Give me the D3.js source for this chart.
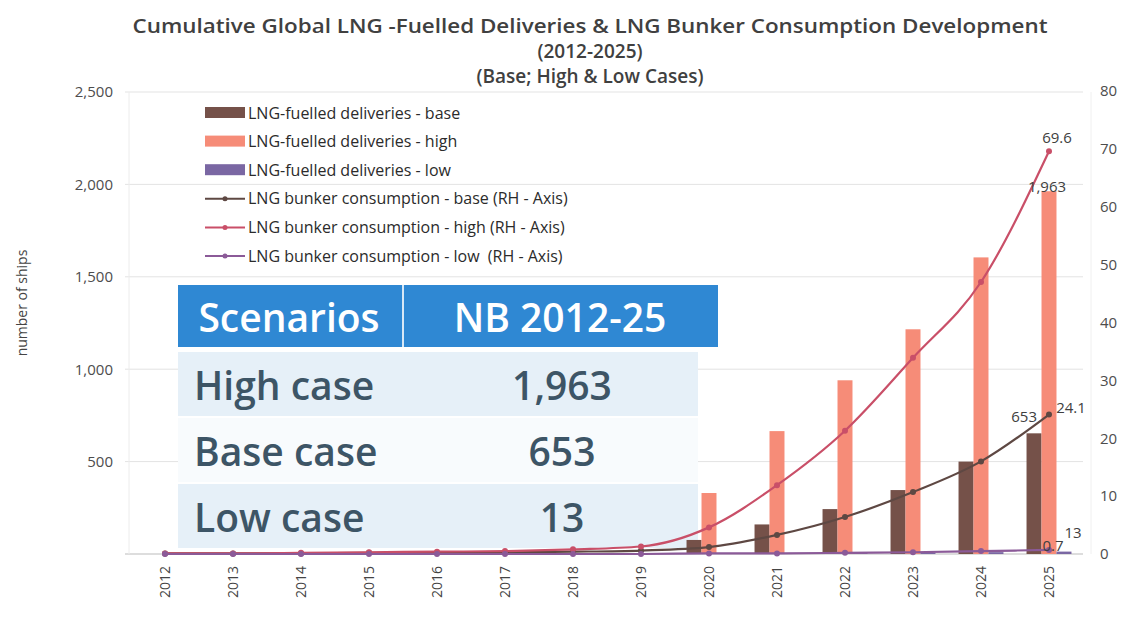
<!DOCTYPE html>
<html>
<head>
<meta charset="utf-8">
<script src="https://cdn.jsdelivr.net/npm/d3@7"></script>
<style>
  body { margin: 0; background: #fff; }
  text { font-family: "Open Sans", "Noto Sans", sans-serif; }
</style>
</head>
<body>
<div id="chart-area"></div>
<script>
// Data
const years = ['2012', '2013', '2014', '2015', '2016', '2017', '2018', '2019', '2020', '2021', '2022', '2023', '2024', '2025'];
const deliveriesBase = [0, 0, 0, 0, 0, 0, 0, 0, 76, 160, 243, 346, 500, 653];
const deliveriesHigh = [0, 0, 0, 0, 0, 0, 0, 0, 330, 665, 940, 1216, 1605, 1963];
const deliveriesLow = [0, 0, 0, 0, 0, 0, 0, 0, 1, 3, 5, 7, 10, 13];
const bunkerBase = [0.1, 0.1, 0.1, 0.2, 0.2, 0.3, 0.4, 0.6, 1.2, 3.3, 6.4, 10.7, 16.0, 24.1];
const bunkerHigh = [0.1, 0.1, 0.2, 0.3, 0.4, 0.5, 0.8, 1.3, 4.6, 11.9, 21.3, 33.9, 47.0, 69.6];
const bunkerLow = [0, 0, 0, 0, 0, 0, 0, 0, 0.1, 0.1, 0.2, 0.3, 0.5, 0.7];
const leftTicks = [0, 500, 1000, 1500, 2000, 2500];
const rightTicks = [0, 10, 20, 30, 40, 50, 60, 70, 80];
const scenarios = ['High case', 'Base case', 'Low case'];
const scenarioTotals = ['1,963', '653', '13'];
const titleLines = ['Cumulative Global LNG -Fuelled Deliveries & LNG Bunker Consumption Development', '(2012-2025)', '(Base; High & Low Cases)'];

// Series setup
const barKeys = ['base', 'high', 'low'];
const barColor = { base: '#755149', high: '#f68c78', low: '#7a67a3' };
const barData = years.map((yr, i) => ({ year: yr, base: deliveriesBase[i], high: deliveriesHigh[i], low: deliveriesLow[i] }));
const lineSeries = [
    { key: 'base', values: bunkerBase, color: '#5e4843' },
    { key: 'high', values: bunkerHigh, color: '#c94f68' },
    { key: 'low', values: bunkerLow, color: '#8b5a98' }
];

// Margin
const W = 1128, H = 619;
const margin = { left: 131, right: 45, top: 92, bottom: 65 };

const svg = d3.select('#chart-area')
    .append('svg')
    .attr('width', W)
    .attr('height', H);

svg.append('rect').attr('width', W).attr('height', H).attr('fill', '#fff');

// Scales
const x = d3.scaleBand()
    .domain(years)
    .range([margin.left, W - margin.right]);

const x1 = d3.scaleBand()
    .domain(barKeys)
    .range([0, x.bandwidth()])
    .paddingOuter(0.77);

const yL = d3.scaleLinear()
    .domain([0, 2500])
    .range([H - margin.bottom, margin.top]);

const yR = d3.scaleLinear()
    .domain([0, 80])
    .range([H - margin.bottom, margin.top - 1]);

// Title
svg.append('g').selectAll('text')
    .data(titleLines)
    .enter().append('text')
    .attr('x', 590)
    .attr('y', (d, i) => 33 + i * 25)
    .attr('text-anchor', 'middle')
    .attr('font-size', '19px')
    .attr('font-weight', 600)
    .attr('fill', '#404040')
    .attr('textLength', (d, i) => i === 0 ? 915 : null)
    .attr('lengthAdjust', 'spacingAndGlyphs')
    .text(d => d);

// Grid lines
svg.append('g').selectAll('line')
    .data(leftTicks)
    .enter().append('line')
    .attr('x1', margin.left - 6)
    .attr('x2', W - margin.right)
    .attr('y1', d => yL(d))
    .attr('y2', d => yL(d))
    .attr('stroke', d => d === 0 ? '#bbb' : '#e3e3e3')
    .attr('stroke-width', 1);

svg.append('line')
    .attr('x1', margin.left - 2).attr('x2', margin.left - 2)
    .attr('y1', margin.top).attr('y2', H - margin.bottom)
    .attr('stroke', '#ececec');

svg.append('line')
    .attr('x1', W - margin.right + 8).attr('x2', W - margin.right + 8)
    .attr('y1', margin.top).attr('y2', H - margin.bottom)
    .attr('stroke', '#f0f0f0');

// Left axis
const yAxisL = d3.axisLeft(yL)
    .tickValues(leftTicks)
    .tickSize(0)
    .tickPadding(18)
    .tickFormat(d => d === 0 ? '' : d3.format(',')(d));
const gL = svg.append('g')
    .attr('transform', 'translate(' + margin.left + ', 0)')
    .call(yAxisL);
gL.select('.domain').remove();
gL.selectAll('text').attr('font-size', '15px').attr('fill', '#4d4d4d').attr('font-family', '"Open Sans", sans-serif');

// Right axis
const yAxisR = d3.axisRight(yR)
    .tickValues(rightTicks)
    .tickSize(0)
    .tickPadding(17);
const gR = svg.append('g')
    .attr('transform', 'translate(' + (W - margin.right) + ', 0)')
    .call(yAxisR);
gR.select('.domain').remove();
gR.selectAll('text').attr('font-size', '15px').attr('fill', '#4d4d4d').attr('font-family', '"Open Sans", sans-serif');

// Y label
svg.append('text')
    .attr('transform', 'translate(27, 303) rotate(-90)')
    .attr('text-anchor', 'middle')
    .attr('font-size', '14px')
    .attr('fill', '#444')
    .text('number of ships');

// X axis
const xAxis = d3.axisBottom(x).tickSize(0).tickPadding(0);
const gX = svg.append('g')
    .attr('transform', 'translate(0, ' + (H - margin.bottom) + ')')
    .call(xAxis);
gX.select('.domain').remove();
gX.selectAll('text')
    .attr('font-size', '14px')
    .attr('fill', '#444')
    .attr('font-family', '"Open Sans", sans-serif')
    .attr('text-anchor', 'end')
    .attr('dy', '0.35em')
    .attr('transform', 'translate(0, 12) rotate(-90)');

// Scenario table
const table = svg.append('g');
const tX = 178, tW = 540, colX = 403;
table.append('rect')
    .attr('x', tX).attr('y', 285).attr('width', tW).attr('height', 62)
    .attr('fill', '#2f88d3');
table.append('line')
    .attr('x1', colX).attr('x2', colX).attr('y1', 285).attr('y2', 347)
    .attr('stroke', '#d8e8f6').attr('stroke-width', 2);
table.append('text')
    .attr('x', 289).attr('y', 332)
    .attr('text-anchor', 'middle')
    .attr('font-size', '39px').attr('font-weight', 600).attr('fill', '#fff')
    .text('Scenarios');
table.append('text')
    .attr('x', 560).attr('y', 332)
    .attr('text-anchor', 'middle')
    .attr('font-size', '39px').attr('font-weight', 600).attr('fill', '#fff')
    .text('NB 2012-25');

const rowH = 66;
const rows = table.selectAll('.row')
    .data(scenarios)
    .enter().append('g')
    .attr('class', 'row')
    .attr('transform', (d, i) => 'translate(0, ' + (352 + i * rowH) + ')');
rows.append('rect')
    .attr('x', tX).attr('y', 0).attr('width', tW - 20).attr('height', rowH - 2)
    .attr('fill', (d, i) => i === 1 ? '#f8fbfd' : '#e6f0f8');
rows.append('text')
    .attr('x', 194).attr('y', 48)
    .attr('font-size', '39px').attr('font-weight', 600).attr('fill', '#3d5566')
    .text(d => d);
rows.append('text')
    .attr('x', 562).attr('y', 48)
    .attr('text-anchor', 'middle')
    .attr('font-size', '39px').attr('font-weight', 600).attr('fill', '#3d5566')
    .text((d, i) => scenarioTotals[i]);

// Bars
svg.append('g').selectAll('g')
    .data(barData)
    .enter().append('g')
    .attr('transform', d => 'translate(' + x(d.year) + ', 0)')
    .selectAll('rect')
    .data(d => barKeys.map(k => ({ key: k, value: d[k] })))
    .enter().append('rect')
    .attr('x', d => x1(d.key))
    .attr('width', x1.bandwidth())
    .attr('y', d => yL(d.value))
    .attr('height', d => yL(0) - yL(d.value))
    .attr('fill', d => barColor[d.key]);

// Lines
const line = d3.line()
    .x((d, i) => x(years[i]) + x.bandwidth() / 2)
    .y(d => yR(d))
    .curve(d3.curveMonotoneX);

lineSeries.forEach(s => {
    svg.append('path')
        .datum(s.values)
        .attr('fill', 'none')
        .attr('stroke', s.color)
        .attr('stroke-width', 2.2)
        .attr('d', line);
    svg.append('g').selectAll('circle')
        .data(s.values)
        .enter().append('circle')
        .attr('cx', (d, i) => x(years[i]) + x.bandwidth() / 2)
        .attr('cy', d => yR(d))
        .attr('r', 3)
        .attr('fill', s.color);
});

// Value labels at 2025
const last = years.length - 1;
const cx = x(years[last]) + x.bandwidth() / 2;
const labels = [
    { text: bunkerHigh[last], x: cx + 8, y: yR(bunkerHigh[last]) - 8, anchor: 'middle' },
    { text: d3.format(',')(deliveriesHigh[last]), x: cx - 2, y: yL(deliveriesHigh[last]) + 1, anchor: 'middle' },
    { text: deliveriesBase[last], x: cx - 12, y: yL(deliveriesBase[last]) - 11, anchor: 'end' },
    { text: bunkerBase[last], x: cx + 22, y: yR(bunkerBase[last]) - 2, anchor: 'middle' },
    { text: deliveriesLow[last], x: cx + 24, y: yL(deliveriesLow[last]) - 14, anchor: 'middle' },
    { text: bunkerLow[last], x: cx + 4, y: yR(bunkerLow[last]) + 1, anchor: 'middle' }
];
svg.append('g').selectAll('text')
    .data(labels)
    .enter().append('text')
    .attr('x', d => d.x)
    .attr('y', d => d.y)
    .attr('text-anchor', d => d.anchor)
    .attr('font-size', '15px')
    .attr('fill', '#404040')
    .text(d => d.text);

// Legend
const legendItems = [
    { label: 'LNG-fuelled deliveries - base', type: 'bar', color: barColor.base },
    { label: 'LNG-fuelled deliveries - high', type: 'bar', color: barColor.high },
    { label: 'LNG-fuelled deliveries - low', type: 'bar', color: barColor.low },
    { label: 'LNG bunker consumption - base (RH - Axis)', type: 'line', color: lineSeries[0].color },
    { label: 'LNG bunker consumption - high (RH - Axis)', type: 'line', color: lineSeries[1].color },
    { label: 'LNG bunker consumption - low  (RH - Axis)', type: 'line', color: lineSeries[2].color }
];
const legend = svg.append('g').selectAll('g')
    .data(legendItems)
    .enter().append('g')
    .attr('transform', (d, i) => 'translate(205, ' + (113 + i * 28.6) + ')');
legend.filter(d => d.type === 'bar').append('rect')
    .attr('x', 0).attr('y', -6).attr('width', 40).attr('height', 11)
    .attr('fill', d => d.color);
legend.filter(d => d.type === 'line').append('line')
    .attr('x1', 0).attr('x2', 40).attr('y1', 0).attr('y2', 0)
    .attr('stroke', d => d.color).attr('stroke-width', 2);
legend.filter(d => d.type === 'line').append('circle')
    .attr('cx', 20).attr('cy', 0).attr('r', 2.5)
    .attr('fill', d => d.color);
legend.append('text')
    .attr('x', 43).attr('y', 0).attr('dy', '0.35em')
    .attr('font-size', '16px')
    .attr('fill', '#2b2b2b')
    .attr('xml:space', 'preserve')
    .text(d => d.label);
</script>
</body>
</html>
